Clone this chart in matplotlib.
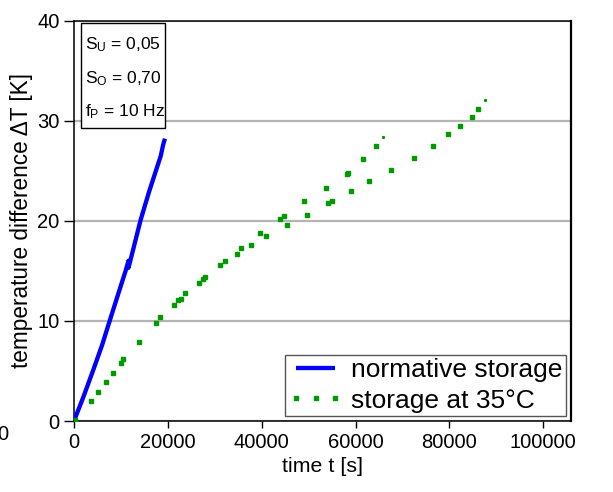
import matplotlib
matplotlib.use("Agg")
import matplotlib.pyplot as plt
from matplotlib.patches import Rectangle

plt.rcParams['font.family'] = ['Liberation Sans', 'DejaVu Sans']
plt.rcParams['mathtext.default'] = 'regular'

# --- data ---
# normative storage (continuous line)
t_norm = [0, 2000, 4110, 6000, 7670, 9500, 11000, 11600, 11600, 12000, 14210, 16000, 18500, 19000, 19380]
dT_norm = [0, 2.4, 5.1, 7.6, 10.1, 12.8, 15.0, 16.0, 15.3, 16.0, 20.1, 22.9, 26.5, 27.6, 28.2]

# storage at 35°C (dots)
t_35 = [300, 3620, 5180, 6750, 8370, 9950, 10500, 13910, 17400, 18320,
        21300, 22220, 22730, 23640, 26690, 27540, 27970, 31160, 32160, 34820,
        35630, 37640, 39620, 40890, 43880, 44790, 45300, 49050, 49690, 53670,
        54160, 54890, 58080, 58420, 58940, 61620, 62900, 64390, 67580, 72420,
        76460, 79720, 82150, 84840, 86050]
dT_35 = [0.1, 2.0, 2.87, 3.87, 4.77, 5.83, 6.17, 7.93, 9.83, 10.4,
         11.6, 12.1, 12.23, 12.77, 13.83, 14.17, 14.4, 15.55, 16.0, 16.7,
         17.27, 17.57, 18.77, 18.43, 20.17, 20.43, 19.57, 21.93, 20.57, 23.27,
         21.77, 21.93, 24.67, 24.77, 22.93, 26.17, 23.93, 27.5, 25.1, 26.27,
         27.47, 28.67, 29.47, 30.37, 31.2]
# the two faint end points
t_tail = [65880, 87610]
dT_tail = [28.37, 32.07]

x_ticks = [0, 20000, 40000, 60000, 80000, 100000]
y_ticks = [0, 10, 20, 30, 40]

param_lines = ['$S_U$ = 0,05', '$S_O$ = 0,70', '$f_P$ = 10 Hz']

# --- figure ---
fig = plt.figure(figsize=(6.13, 4.92), dpi=100)
ax = fig.add_axes([0.1207, 0.1443, 0.8108, 0.8140])

ax.plot(t_norm, dT_norm, color='#0000ff', lw=3.1, solid_capstyle='butt',
        label='normative storage', zorder=3)
ax.plot(t_35, dT_35, ls='none', marker='s', ms=3.3, mec='#009a00', mfc='#009a00',
        label='storage at 35°C', zorder=3)
ax.plot(t_tail, dT_tail, ls='none', marker='s', ms=1.2, mec='#009a00', mfc='#009a00',
        zorder=3)

ax.set_xlim(0, 105900)
ax.set_ylim(0, 40)
ax.set_xticks(x_ticks)
ax.set_yticks(y_ticks)
ax.set_xticklabels([str(v) for v in x_ticks])
ax.tick_params(axis='both', direction='out', labelsize=14.5, width=1, colors='black')
ax.tick_params(axis='y', length=7)
ax.tick_params(axis='x', length=5)
ax.grid(axis='y', color='#b4b4b4', lw=1.6)
ax.set_axisbelow(True)
for s in ax.spines.values():
    s.set_color('black')
    s.set_linewidth(1.1)
ax.spines['right'].set_linewidth(1.6)

ax.set_xlabel('time t [s]', fontsize=15.4)
ax.set_ylabel('temperature difference ΔT [K]', fontsize=16.3, labelpad=3)

# parameter box top left
ax.add_patch(Rectangle((0.0141, 0.7316), 0.169, 0.2622, transform=ax.transAxes,
                       fc='white', ec='black', lw=1, zorder=4))
for i, s in enumerate(param_lines):
    ax.text(0.0221, 0.9388 - i * 0.0837, s, transform=ax.transAxes,
            ha='left', va='center', fontsize=12.5, zorder=5)

leg = ax.legend(loc='lower right', fontsize=19, numpoints=3, handlelength=2.1,
                handletextpad=0.3, borderpad=0.12, borderaxespad=0.2,
                fancybox=False, framealpha=1, edgecolor='#555555', labelspacing=0.25)
leg.get_frame().set_linewidth(1)

# cut-off "0" at the left edge of the picture
fig.text(0.004, 1 - 435 / 492, '0', fontsize=14.5, ha='center', va='center')

fig.savefig('out.png', dpi=100)
